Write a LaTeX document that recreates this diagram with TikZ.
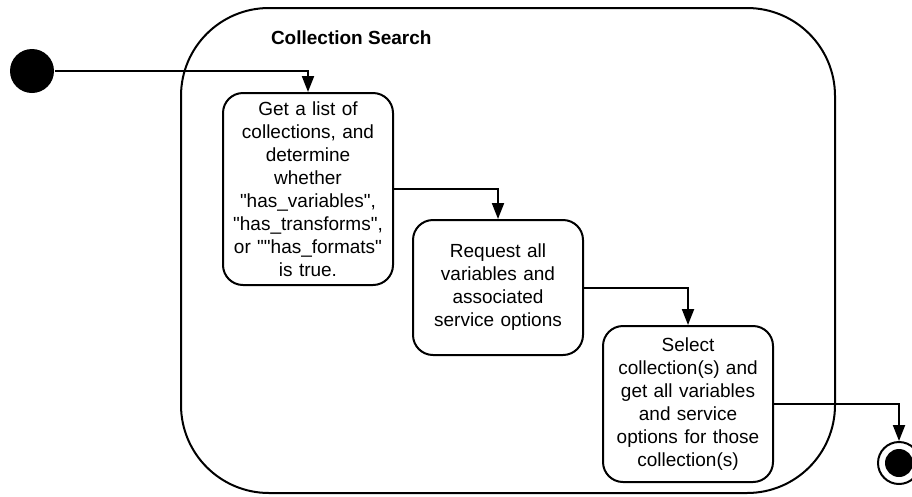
\documentclass[tikz,border=0pt]{standalone}
\usepackage{fontspec}
\setmainfont{Liberation Sans}[Ligatures=TeXOff]
\usetikzlibrary{arrows.meta}

\begin{document}
\begin{tikzpicture}[x=1pt,y=-1pt,line width=2pt,
    activity/.style={draw,rounded corners=20pt,minimum width=170pt,text width=160pt,
      align=center,inner sep=0pt,font=\fontsize{19}{23}\selectfont},
    elbow/.style={-{Triangle[length=16pt,width=12pt]},to path={-| (\tikztotarget)}}]
    \useasboundingbox (0,0) rectangle (912,496);
    \draw[rounded corners=88pt] (181,8) rectangle (835,493);
    \node[anchor=base west,inner sep=0pt,font=\fontsize{19}{23}\selectfont\bfseries] (title) at (270,44) {Collection Search};
    \node[circle,fill,minimum size=44pt,inner sep=0pt] (start) at (32,71) {};
    \node[activity,minimum height=192pt] (list) at (308,189) {Get a list of\\collections, and\\determine\\whether\\"has\_variables",\\"has\_transforms",\\or ""has\_formats"\\is true.};
    \node[activity,minimum height=135pt] (request) at (498,287.5) {Request all\\variables and\\associated\\service options};
    \node[activity,minimum height=156pt] (select) at (688,404) {Select\\collection(s) and\\get all variables\\and service\\options for those\\collection(s)};
    \node[circle,draw,fill=white,minimum size=42pt,inner sep=0pt] (stop) at (899,463) {};
    \node[circle,fill,minimum size=28pt,inner sep=0pt] (stopdot) at (stop) {};
    \draw (start) edge[elbow] (list)
    (list) edge[elbow] (request)
    (request) edge[elbow] (select)
    (select) edge[elbow] (stop);
  \end{tikzpicture}
\end{document}
